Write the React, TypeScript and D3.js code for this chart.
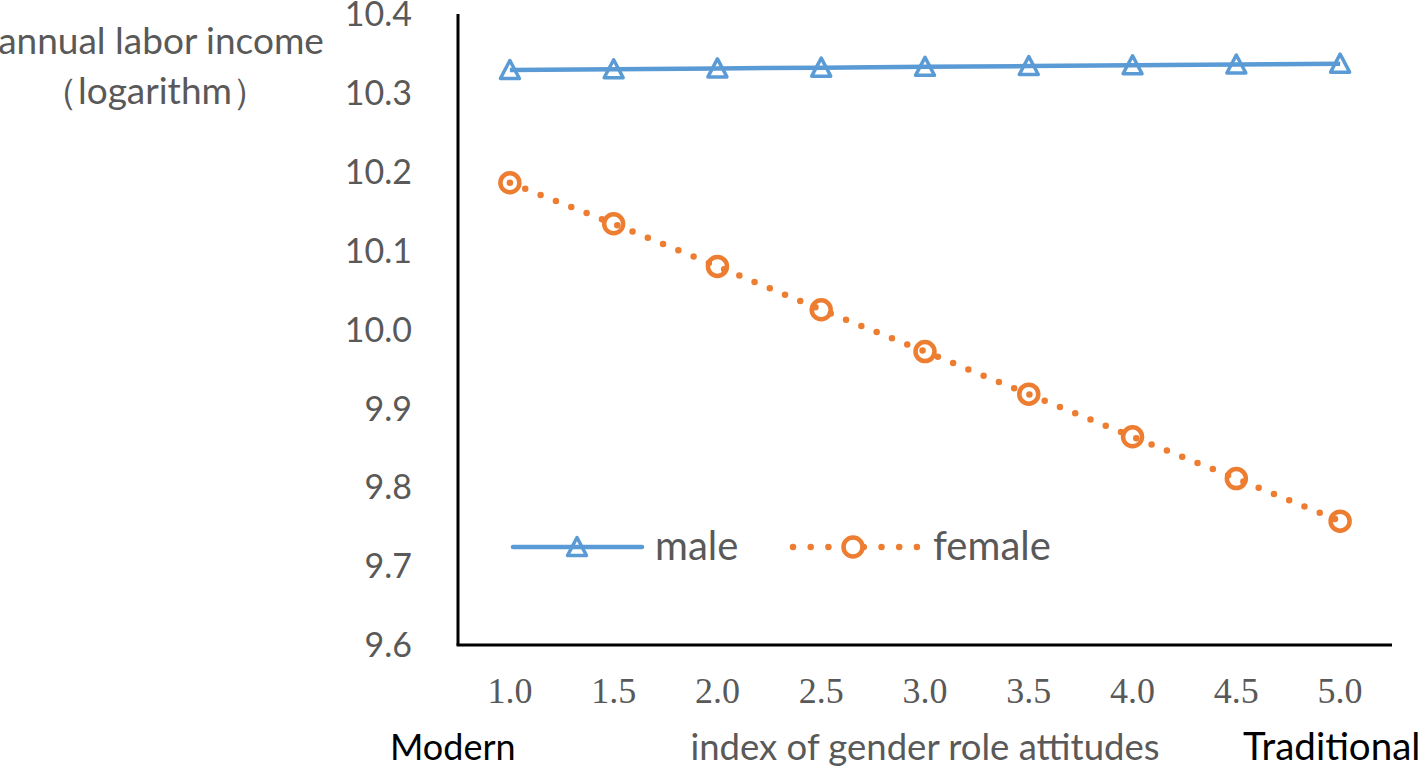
import React from "react";
import * as d3 from "d3";

const categories = [1.0, 1.5, 2.0, 2.5, 3.0, 3.5, 4.0, 4.5, 5.0];
const maleValues = [10.329, 10.330, 10.331, 10.332, 10.333, 10.334, 10.335, 10.336, 10.337];
const femaleValues = [10.186, 10.134, 10.080, 10.025, 9.972, 9.918, 9.864, 9.811, 9.757];
const yTicks = [9.6, 9.7, 9.8, 9.9, 10.0, 10.1, 10.2, 10.3, 10.4];
const seriesNames = ["male", "female"];

const W = 1418;
const H = 771;
const BLUE = "#5B9BD5";
const ORANGE = "#ED7D31";
const GRAY = "#595959";
const SANS = "Lato, 'Open Sans', sans-serif";
const SERIF = "'Liberation Serif', 'Times New Roman', serif";

const x = d3.scaleLinear().domain([0.75, 5.25]).range([458, 1392]);
const y = d3.scaleLinear().domain([9.6, 10.4]).range([645, 14]);

const line = d3
  .line<number>()
  .x((_, i) => x(categories[i]))
  .y((d) => y(d));

const triPath = "M0,-9.5 L9.5,8.5 L-9.5,8.5 Z";

export default function App() {
  const legendY = 547;
  return (
    <svg
      width={W}
      height={H}
      style={{ position: "absolute", left: 0, top: 0, background: "#fff" }}
    >
      {/* y axis title */}
      <text x={161} y={54} textAnchor="middle" fontFamily={SANS} fontSize={37} fill={GRAY}>
        annual labor income
      </text>
      <text x={155} y={104} textAnchor="middle" fontFamily={SANS} fontSize={37} fill={GRAY}>
        （logarithm）
      </text>

      {/* y ticks */}
      {yTicks.map((t) => (
        <text
          key={t}
          x={412}
          y={y(t)}
          dy="0.36em"
          textAnchor="end"
          fontFamily={SANS}
          fontSize={34}
          fill={GRAY}
        >
          {t.toFixed(1)}
        </text>
      ))}

      {/* x ticks */}
      {categories.map((c) => (
        <text
          key={c}
          x={x(c)}
          y={703}
          textAnchor="middle"
          fontFamily={SERIF}
          fontSize={36}
          fill={GRAY}
        >
          {c.toFixed(1)}
        </text>
      ))}

      {/* axes */}
      <line x1={x(0.75)} x2={x(0.75)} y1={y(10.4)} y2={y(9.6)} stroke="#000" strokeWidth={3} />
      <line x1={x(0.75) - 1.5} x2={x(5.25)} y1={y(9.6)} y2={y(9.6)} stroke="#000" strokeWidth={3} />

      {/* bottom labels */}
      <text x={390} y={760} fontFamily={SANS} fontSize={36} fill="#000">
        Modern
      </text>
      <text x={925} y={760} textAnchor="middle" fontFamily={SANS} fontSize={36.5} fill={GRAY}>
        index of gender role attitudes
      </text>
      <text x={1243} y={760} fontFamily={SANS} fontSize={38.5} fill="#000">
        Traditional
      </text>

      {/* male series */}
      <path d={line(maleValues) || ""} fill="none" stroke={BLUE} strokeWidth={4.5} />
      {maleValues.map((v, i) => (
        <path
          key={i}
          d={triPath}
          transform={`translate(${x(categories[i])},${y(v)})`}
          fill="none"
          stroke={BLUE}
          strokeWidth={3.5}
          strokeLinejoin="round"
        />
      ))}

      {/* female series */}
      <path
        d={line(femaleValues) || ""}
        fill="none"
        stroke={ORANGE}
        strokeWidth={6.5}
        strokeDasharray="0 16.5"
        strokeLinecap="round"
      />
      {femaleValues.map((v, i) => (
        <circle
          key={i}
          cx={x(categories[i])}
          cy={y(v)}
          r={9.5}
          fill="none"
          stroke={ORANGE}
          strokeWidth={4.5}
        />
      ))}

      {/* legend */}
      <line x1={513} x2={642} y1={legendY} y2={legendY} stroke={BLUE} strokeWidth={4.5} strokeLinecap="round" />
      <path d={triPath} transform={`translate(577,${legendY})`} fill="none" stroke={BLUE} strokeWidth={3.5} strokeLinejoin="round" />
      <text x={655} y={560} fontFamily={SANS} fontSize={40} fill={GRAY}>
        {seriesNames[0]}
      </text>
      <line
        x1={793}
        x2={917}
        y1={legendY}
        y2={legendY}
        stroke={ORANGE}
        strokeWidth={6.5}
        strokeDasharray="0 17.7"
        strokeLinecap="round"
      />
      <circle cx={853} cy={legendY} r={9.5} fill="#fff" stroke={ORANGE} strokeWidth={4.5} />
      <text x={933} y={560} fontFamily={SANS} fontSize={40} fill={GRAY}>
        {seriesNames[1]}
      </text>
    </svg>
  );
}
